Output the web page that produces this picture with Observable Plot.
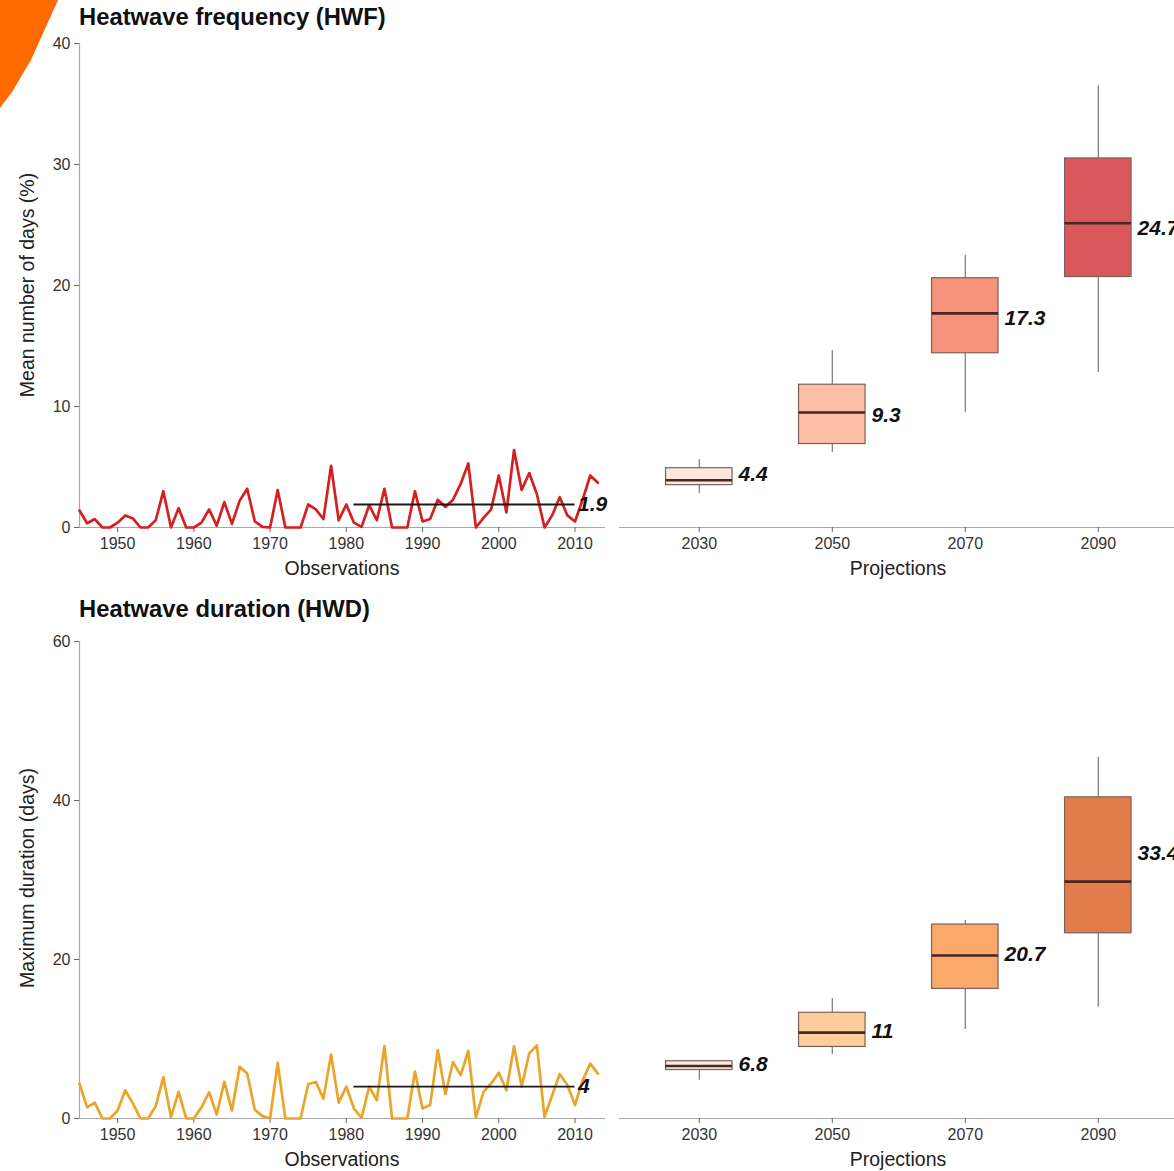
<!DOCTYPE html>
<html>
<head>
<meta charset="utf-8">
<script src="https://cdn.jsdelivr.net/npm/d3@7"></script>
<script src="https://cdn.jsdelivr.net/npm/@observablehq/plot@0.6"></script>
<style>
  html, body { margin: 0; padding: 0; background: #fff; overflow: hidden; }
  #chart { position: relative; width: 1174px; height: 1171px; overflow: hidden;
           font-family: "Liberation Sans", Arial, sans-serif; color: #222; }
  .abs { position: absolute; }
  .title { font-size: 23.8px; font-weight: bold; line-height: 1; color: #111; white-space: nowrap; }
  .axis-title { font-size: 19.5px; line-height: 1; white-space: nowrap; color: #222;
                transform: translate(-50%, -50%); }
  .axis-title.vertical { transform: translate(-50%, -50%) rotate(-90deg); }
  .corner { left: 0; top: 0; width: 60px; height: 110px; background: #ff6a00;
            clip-path: polygon(0 0, 58px 0, 31px 60px, 12px 92px, 0 108px); }
  #chart svg { max-width: none !important; }
</style>
</head>
<body>
<div id="chart"></div>
<script>
// ---- Observed series, 1945–2013 ----
const obsYears = d3.range(1945, 2014);

// Heatwave frequency, mean number of days (%)
const hwfObs = [
  1.4, 0.35, 0.7, 0, 0, 0.4, 1.0, 0.75, 0, 0,
  0.6, 3.0, 0, 1.6, 0, 0, 0.4, 1.5, 0.15, 2.1,
  0.3, 2.2, 3.2, 0.5, 0.05, 0, 3.1, 0, 0, 0,
  1.9, 1.5, 0.7, 5.1, 0.6, 1.9, 0.4, 0.05, 1.85, 0.6,
  3.2, 0, 0, 0, 3.0, 0.5, 0.7, 2.3, 1.7, 2.3,
  3.6, 5.3, 0, 0.8, 1.5, 4.3, 1.25, 6.4, 3.1, 4.5,
  2.75, 0, 1.0, 2.5, 1.0, 0.5, 2.3, 4.3, 3.7
];

// Heatwave duration, maximum duration (days)
const hwdObs = [
  4.4, 1.4, 2.0, 0, 0, 1.0, 3.55, 1.9, 0, 0,
  1.55, 5.2, 0.2, 3.35, 0, 0, 1.4, 3.3, 0.5, 4.6,
  1.0, 6.5, 5.65, 1.1, 0.3, 0, 7.0, 0, 0, 0,
  4.3, 4.6, 2.5, 8.05, 2.0, 4.0, 1.25, 0.1, 4.0, 2.3,
  9.1, 0, 0, 0, 5.9, 1.25, 1.7, 8.6, 3.05, 7.1,
  5.45, 8.5, 0.1, 3.35, 4.4, 5.75, 3.55, 9.1, 4.0, 8.2,
  9.2, 0.2, 2.9, 5.6, 4.2, 1.7, 4.8, 6.9, 5.65
];

// Baseline-period means (1981–2010)
const baselineStart = 1981;
const baselineEnd = 2010;
const hwfObsMean = 1.9;
const hwdObsMean = 4;

// ---- Projections: box summaries per period ----
const projYears = [2030, 2050, 2070, 2090];

const hwfLow    = [2.8, 6.2, 9.5, 12.8];
const hwfQ1     = [3.5, 6.9, 14.4, 20.7];
const hwfMedian = [3.9, 9.5, 17.7, 25.15];
const hwfQ3     = [4.9, 11.8, 20.6, 30.5];
const hwfHigh   = [5.6, 14.6, 22.5, 36.5];
const hwfMean   = [4.4, 9.3, 17.3, 24.7];

const hwdLow    = [4.8, 8.05, 11.2, 14.0];
const hwdQ1     = [6.1, 9.0, 16.3, 23.3];
const hwdMedian = [6.6, 10.8, 20.5, 29.8];
const hwdQ3     = [7.2, 13.3, 24.4, 40.4];
const hwdHigh   = [7.2, 15.1, 24.9, 45.4];
const hwdMean   = [6.8, 11, 20.7, 33.4];

// Tick labels
const obsTicks = [1950, 1960, 1970, 1980, 1990, 2000, 2010];
const hwfTicks = [0, 10, 20, 30, 40];
const hwdTicks = [0, 20, 40, 60];

const chart = document.getElementById("chart");
const FONT = "'Liberation Sans', Arial, sans-serif";
const AXIS_GREY = "#a8a8a8";

function place(node, left, top) {
  const wrap = document.createElement("div");
  wrap.className = "abs";
  wrap.style.left = left + "px";
  wrap.style.top = top + "px";
  wrap.appendChild(node);
  chart.appendChild(wrap);
}

function label(text, cls, left, top) {
  const d = document.createElement("div");
  d.className = "abs " + cls;
  d.style.left = left + "px";
  d.style.top = top + "px";
  d.textContent = text;
  chart.appendChild(d);
}

const baseStyle = { fontFamily: FONT, fontSize: "16px", color: "#333", background: "transparent", overflow: "visible" };

function obsPanel({ values, mean, yMax, yTicks, stroke, height }) {
  return Plot.plot({
    width: 610, height,
    marginLeft: 79, marginRight: 5, marginTop: 10, marginBottom: 55,
    style: baseStyle,
    x: { domain: [1945, 2014] },
    y: { domain: [0, yMax] },
    marks: [
      Plot.ruleX([1945], { stroke: AXIS_GREY, strokeWidth: 1.2 }),
      Plot.ruleY([0], { stroke: AXIS_GREY, strokeWidth: 1.2 }),
      Plot.axisY({ ticks: yTicks, tickSize: 5, tickPadding: 4, stroke: "#666", fill: "#333", fontSize: 16, label: null }),
      Plot.axisX({ ticks: obsTicks, tickFormat: "d", tickSize: 5, tickPadding: 5, stroke: "#666", fill: "#333", fontSize: 16, label: null }),
      Plot.line(values, { x: (d, i) => obsYears[i], y: d => d, stroke, strokeWidth: 2.7 }),
      Plot.ruleY([mean], { x1: baselineStart, x2: baselineEnd, stroke: "#1a1a1a", strokeWidth: 1.8 }),
      Plot.text([mean], { x: baselineEnd, y: d => d, text: d => String(d), dx: 3, textAnchor: "start",
                          fontSize: 21, fontWeight: "bold", fontStyle: "italic", fill: "#111" })
    ]
  });
}

function projPanel({ low, q1, median, q3, high, mean, yMax, fills, height }) {
  const boxes = projYears.map((year, i) => ({
    year, lo: low[i], q1: q1[i], median: median[i], q3: q3[i], hi: high[i], mean: mean[i]
  }));
  return Plot.plot({
    width: 640, height,
    marginLeft: 14, marginRight: 67.4, marginTop: 10, marginBottom: 55,
    style: baseStyle,
    x: { domain: [2018, 2102] },
    y: { domain: [0, yMax], axis: null },
    color: { type: "ordinal", domain: projYears, range: fills },
    marks: [
      Plot.ruleY([0], { stroke: AXIS_GREY, strokeWidth: 1.2 }),
      Plot.axisX({ ticks: projYears, tickFormat: "d", tickSize: 5, tickPadding: 5, stroke: "#666", fill: "#333", fontSize: 16, label: null }),
      Plot.ruleX(boxes, { x: "year", y1: "lo", y2: "hi", stroke: "#777", strokeWidth: 1.2 }),
      Plot.rect(boxes, { x1: d => d.year - 5, x2: d => d.year + 5, y1: "q1", y2: "q3",
                         fill: "year", stroke: "#7a625c", strokeWidth: 1.2 }),
      Plot.ruleY(boxes, { y: "median", x1: d => d.year - 5, x2: d => d.year + 5, stroke: "#4a2620", strokeWidth: 2.6 }),
      Plot.text(boxes, { x: d => d.year + 5, y: "mean", text: d => String(d.mean), dx: 6, textAnchor: "start",
                         fontSize: 21, fontWeight: "bold", fontStyle: "italic", fill: "#111" })
    ]
  });
}

// Corner accent
const corner = document.createElement("div");
corner.className = "abs corner";
chart.appendChild(corner);

// ---- Heatwave frequency ----
label("Heatwave frequency (HWF)", "title", 79, 5);
place(obsPanel({ values: hwfObs, mean: hwfObsMean, yMax: 40, yTicks: hwfTicks, stroke: "#d42020", height: 549 }), 0, 33);
place(projPanel({ low: hwfLow, q1: hwfQ1, median: hwfMedian, q3: hwfQ3, high: hwfHigh, mean: hwfMean, yMax: 40,
                  fills: ["#fde6dd", "#fcbfa6", "#f7937b", "#da575c"], height: 549 }), 605, 33);
label("Mean number of days (%)", "axis-title vertical", 28, 285);
label("Observations", "axis-title", 342, 569);
label("Projections", "axis-title", 898, 569);

// ---- Heatwave duration ----
label("Heatwave duration (HWD)", "title", 79, 597);
place(obsPanel({ values: hwdObs, mean: hwdObsMean, yMax: 60, yTicks: hwdTicks, stroke: "#eaa42a", height: 542 }), 0, 631);
place(projPanel({ low: hwdLow, q1: hwdQ1, median: hwdMedian, q3: hwdQ3, high: hwdHigh, mean: hwdMean, yMax: 60,
                  fills: ["#f8ece0", "#fdcd9c", "#fba96a", "#e27d4b"], height: 542 }), 605, 631);
label("Maximum duration (days)", "axis-title vertical", 28, 878);
label("Observations", "axis-title", 342, 1160);
label("Projections", "axis-title", 898, 1160);
</script>
</body>
</html>
